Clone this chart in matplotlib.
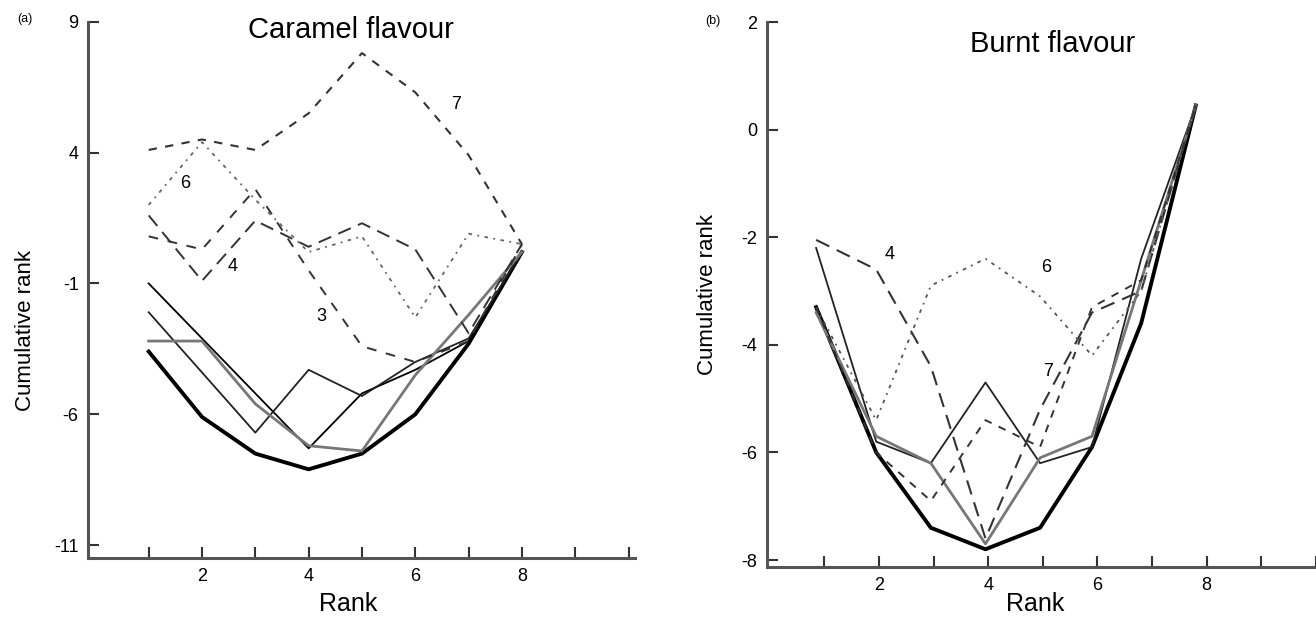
import matplotlib.pyplot as plt

plt.rcParams['font.family'] = ['Liberation Sans', 'DejaVu Sans']

# Caramel flavour: cumulative rank per rank position
rank_a = [1, 2, 3, 4, 5, 6, 7, 8]
caramel_min = [-3.6, -6.1, -7.5, -8.1, -7.5, -6.0, -3.3, 0.2]
caramel_s1 = [-1.0, -3.1, -5.2, -7.3, -5.2, -4.3, -3.2, 0.2]
caramel_s2 = [-2.1, -4.4, -6.7, -4.3, -5.3, -4.0, -3.1, 0.2]
caramel_s3 = [-3.2, -3.2, -5.6, -7.2, -7.4, -4.5, -2.2, 0.2]
caramel_3 = [0.8, 0.3, 2.6, -0.5, -3.4, -4.0, -3.2, 0.5]
caramel_4 = [1.6, -0.9, 1.4, 0.4, 1.3, 0.3, -2.9, 0.5]
caramel_6 = [2.0, 4.4, 2.2, 0.2, 0.8, -2.3, 0.9, 0.5]
caramel_7 = [4.1, 4.5, 4.1, 5.5, 7.8, 6.3, 3.9, 0.5]

# Burnt flavour
rank_b = [0.85, 1.95, 2.95, 3.95, 4.95, 5.9, 6.8, 7.8]
burnt_min = [-3.3, -6.0, -7.4, -7.8, -7.4, -5.9, -3.6, 0.45]
burnt_s1 = [-2.2, -5.8, -6.2, -4.7, -6.2, -5.9, -2.4, 0.45]
burnt_s2 = [-3.4, -5.7, -6.2, -7.7, -6.1, -5.7, -2.8, 0.45]
burnt_4 = [-2.05, -2.6, -4.4, -7.6, -5.2, -3.4, -3.0, 0.45]
burnt_6 = [-3.3, -5.4, -2.9, -2.4, -3.1, -4.2, -3.0, 0.45]
burnt_7 = [-3.3, -6.0, -6.9, -5.4, -5.9, -3.3, -2.8, 0.45]

fig = plt.figure(figsize=(13.16, 6.18), dpi=100)


def style_axes(ax, yticks, ylabels):
    for s in ['top', 'right']:
        ax.spines[s].set_visible(False)
    for s in ['left', 'bottom']:
        ax.spines[s].set_color('#555555')
        ax.spines[s].set_linewidth(2.2)
    ax.set_xticks(range(1, 11))
    ax.set_xticklabels(['', '2', '', '4', '', '6', '', '8', '', ''])
    ax.set_yticks(yticks)
    ax.set_yticklabels(ylabels)
    ax.tick_params(direction='in', length=8, width=1.5, color='#333333',
                   labelsize=13, pad=7)
    ax.set_xlabel('Rank', fontsize=18)
    ax.set_ylabel('Cumulative rank', fontsize=16)


# (a) Caramel
ax1 = fig.add_axes([0.0672, 0.0966, 0.4157, 0.8683])
ax1.plot(rank_a, caramel_min, color='black', lw=2.8)
ax1.plot(rank_a, caramel_s1, color='black', lw=1.3)
ax1.plot(rank_a, caramel_s2, color='#222222', lw=1.3)
ax1.plot(rank_a, caramel_s3, color='#777777', lw=2.0)
ax1.plot(rank_a, caramel_3, color='#333333', lw=1.4, dashes=(5, 5))
ax1.plot(rank_a, caramel_4, color='#333333', lw=1.4, dashes=(7, 4))
ax1.plot(rank_a, caramel_6, color='#666666', lw=1.3, dashes=(2, 3, 1, 3))
ax1.plot(rank_a, caramel_7, color='#333333', lw=1.5, dashes=(4, 4))
ax1.text(1.68, 2.8, '6', fontsize=13, ha='center', va='center')
ax1.text(2.58, -0.35, '4', fontsize=13, ha='center', va='center')
ax1.text(4.24, -2.25, '3', fontsize=13, ha='center', va='center')
ax1.text(6.77, 5.85, '7', fontsize=13, ha='center', va='center')
ax1.set_xlim(-0.13, 10.13)
ax1.set_ylim(-11.5, 9.0)
style_axes(ax1, [9, 4, -1, -6, -11], ['9', '4', '-1', '-6', '-11'])
ax1.xaxis.set_label_coords(0.475, -0.062)
ax1.yaxis.set_label_coords(-0.095, 0.425)
ax1.set_title('Caramel flavour', fontsize=21, x=0.48, y=0.955)
fig.text(0.019, 0.97, '(a)', fontsize=9, ha='center', va='center')

# (b) Burnt
ax2 = fig.add_axes([0.5828, 0.0825, 0.4172, 0.8819])
ax2.plot(rank_b, burnt_min, color='black', lw=2.8)
ax2.plot(rank_b, burnt_s1, color='#222222', lw=1.3)
ax2.plot(rank_b, burnt_s2, color='#777777', lw=2.0)
ax2.plot(rank_b, burnt_4, color='#333333', lw=1.5, dashes=(7, 4))
ax2.plot(rank_b, burnt_6, color='#555555', lw=1.3, dashes=(2, 3, 1, 3))
ax2.plot(rank_b, burnt_7, color='#333333', lw=1.4, dashes=(4, 4))
ax2.text(2.2, -2.33, '4', fontsize=13, ha='center', va='center')
ax2.text(5.07, -2.57, '6', fontsize=13, ha='center', va='center')
ax2.text(5.1, -4.5, '7', fontsize=13, ha='center', va='center')
ax2.set_xlim(-0.05, 9.93)
ax2.set_ylim(-8.13, 2.0)
style_axes(ax2, [2, 0, -2, -4, -6, -8], ['2', '0', '-2', '-4', '-6', '-8'])
ax2.xaxis.set_label_coords(0.488, -0.046)
ax2.yaxis.set_label_coords(-0.089, 0.50)
ax2.set_title('Burnt flavour', fontsize=21, x=0.52, y=0.93)
fig.text(0.542, 0.966, '(b)', fontsize=9, ha='center', va='center')

fig.savefig('out.png', dpi=100)
